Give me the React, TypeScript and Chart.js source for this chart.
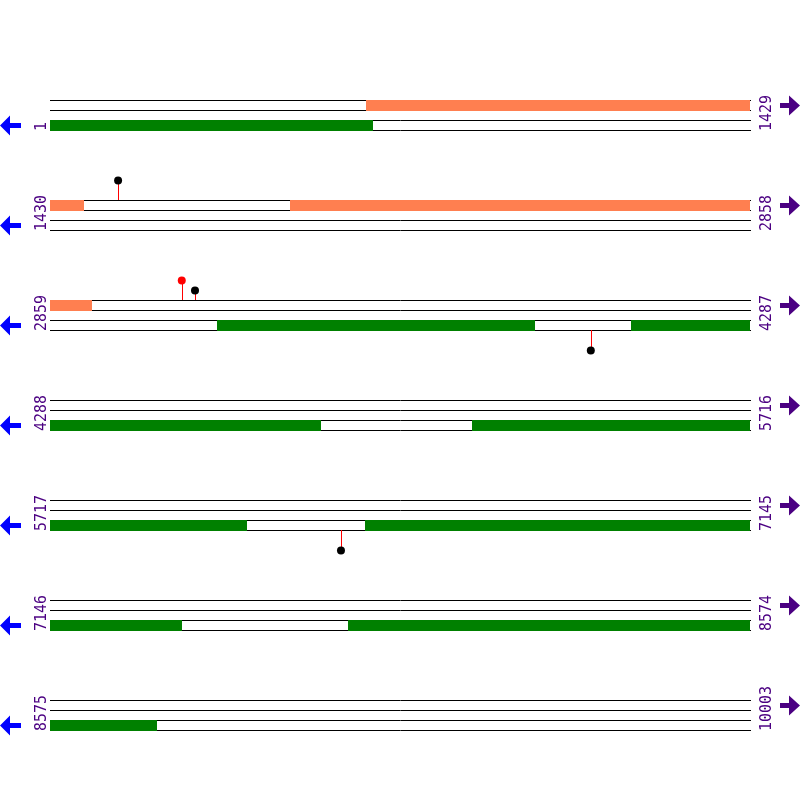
import React, { useEffect, useRef } from "react";
import { Chart, registerables } from "chart.js";
Chart.register(...registerables);

const ROW_LEN = 1429;
const rowStarts = [1, 1430, 2859, 4288, 5717, 7146, 8575];
const rowEnds = [1429, 2858, 4287, 5716, 7145, 8574, 10003];
const forwardStarts = [646, 1920];
const forwardEnds = [1499, 2943];
const reverseStarts = [1, 3200, 4045, 5149, 6360, 7754];
const reverseEnds = [660, 3849, 4841, 6119, 7415, 8793];
const sitePositions = [1569, 3128, 3155, 3963, 6311];
const siteStrands = ["+", "+", "+", "-", "-"];
const siteLevels = [2, 2, 1, 2, 2];
const siteHeadColors = ["#000000", "#FF0000", "#000000", "#000000", "#000000"];
const siteStemColors = ["#FF0000", "#FF0000", "#FF0000", "#FF0000", "#FF0000"];

const FWD_COLOR = "#FF7F50";
const REV_COLOR = "#008000";
const LABEL_COLOR = "#4B0082";
const LEFT_ARROW_COLOR = "#0000FF";

const rowBase = (r: number) => 100 + 100 * r;
const rowOf = (pos: number) => rowStarts.findIndex((s, i) => pos >= s && pos <= rowEnds[i]);

const siteHeadY = (i: number) => {
  const r = rowOf(sitePositions[i]);
  const b = rowBase(r);
  return siteStrands[i] === "+" ? b - 10 * siteLevels[i] : b + 30 + 10 * siteLevels[i];
};

const genomePlugin = {
  id: "genomeMap",
  beforeDatasetsDraw(chart: any) {
    const ctx = chart.ctx as CanvasRenderingContext2D;
    const xs = chart.scales.x;
    const ys = chart.scales.y;
    ctx.save();
    rowStarts.forEach((rs, r) => {
      const base = rowBase(r);
      const px = (pos: number) => xs.getPixelForValue(pos - rs);
      const xStart = Math.round(xs.getPixelForValue(0));
      const xEnd = Math.round(xs.getPixelForValue(ROW_LEN)) + 1;
      ctx.strokeStyle = "#000000";
      ctx.lineWidth = 1;
      for (let l = 0; l < 4; l++) {
        const y = Math.round(ys.getPixelForValue(base + 10 * l)) + 0.5;
        ctx.beginPath();
        ctx.moveTo(xStart, y);
        ctx.lineTo(xEnd, y);
        ctx.stroke();
      }
      const drawFeat = (starts: number[], ends: number[], line: number, color: string) => {
        starts.forEach((s, i) => {
          const a = Math.max(s, rs);
          const b = Math.min(ends[i] + 1, rs + ROW_LEN);
          if (b <= a) return;
          const x0 = Math.round(px(a));
          const x1 = Math.round(px(b));
          const y0 = Math.round(ys.getPixelForValue(base + 10 * line));
          const y1 = Math.round(ys.getPixelForValue(base + 10 * (line + 1)));
          ctx.fillStyle = color;
          ctx.fillRect(x0, y0, x1 - x0, y1 - y0 + 1);
        });
      };
      drawFeat(forwardStarts, forwardEnds, 0, FWD_COLOR);
      drawFeat(reverseStarts, reverseEnds, 2, REV_COLOR);

      ctx.fillStyle = LABEL_COLOR;
      ctx.font = "15px 'DejaVu Sans Mono', monospace";
      ctx.textAlign = "left";
      ctx.textBaseline = "alphabetic";
      const yLab = Math.round(ys.getPixelForValue(base + 30)) + 1;
      ctx.save();
      ctx.translate(xStart - 4, yLab);
      ctx.rotate(-Math.PI / 2);
      ctx.fillText(String(rs), 0, 0);
      ctx.restore();
      ctx.save();
      ctx.translate(xEnd + 20, yLab);
      ctx.rotate(-Math.PI / 2);
      ctx.fillText(String(rowEnds[r]), 0, 0);
      ctx.restore();

      const yl = Math.round(ys.getPixelForValue(base + 25)) + 0.5;
      ctx.fillStyle = LEFT_ARROW_COLOR;
      ctx.beginPath();
      ctx.moveTo(0, yl);
      ctx.lineTo(10, yl - 10);
      ctx.lineTo(10, yl - 2.5);
      ctx.lineTo(21, yl - 2.5);
      ctx.lineTo(21, yl + 2.5);
      ctx.lineTo(10, yl + 2.5);
      ctx.lineTo(10, yl + 10);
      ctx.closePath();
      ctx.fill();
      const yr = Math.round(ys.getPixelForValue(base + 5)) + 0.5;
      ctx.fillStyle = LABEL_COLOR;
      ctx.beginPath();
      ctx.moveTo(800, yr);
      ctx.lineTo(789, yr - 10);
      ctx.lineTo(789, yr - 2.5);
      ctx.lineTo(780, yr - 2.5);
      ctx.lineTo(780, yr + 2.5);
      ctx.lineTo(789, yr + 2.5);
      ctx.lineTo(789, yr + 10);
      ctx.closePath();
      ctx.fill();
    });
    sitePositions.forEach((pos, i) => {
      const r = rowOf(pos);
      const base = rowBase(r);
      const x = Math.round(xs.getPixelForValue(pos - rowStarts[r])) + 0.5;
      const yLine = siteStrands[i] === "+" ? base : base + 30;
      ctx.strokeStyle = siteStemColors[i];
      ctx.lineWidth = 1;
      ctx.beginPath();
      ctx.moveTo(x, Math.round(ys.getPixelForValue(yLine)));
      ctx.lineTo(x, Math.round(ys.getPixelForValue(siteHeadY(i))));
      ctx.stroke();
    });
    ctx.restore();
  },
};

export default function App() {
  const ref = useRef<HTMLCanvasElement | null>(null);
  useEffect(() => {
    if (!ref.current) return;
    const chart = new Chart(ref.current, {
      type: "scatter",
      data: {
        datasets: [
          {
            data: sitePositions.map((p, i) => ({
              x: p - rowStarts[rowOf(p)],
              y: siteHeadY(i) + 0.5,
            })),
            pointRadius: 4,
            pointBorderWidth: 0,
            pointBackgroundColor: siteHeadColors,
            pointBorderColor: siteHeadColors,
            showLine: false,
          },
        ],
      },
      options: {
        animation: false,
        responsive: false,
        events: [],
        layout: { autoPadding: false, padding: { left: 50, right: 50, top: 0, bottom: 0 } },
        plugins: { legend: { display: false }, tooltip: { enabled: false }, title: { display: false } },
        scales: {
          x: { type: "linear", min: 0, max: ROW_LEN, display: false },
          y: { type: "linear", min: 0, max: 800, reverse: true, display: false },
        },
      },
      plugins: [genomePlugin],
    });
    return () => chart.destroy();
  }, []);
  return (
    <div style={{ position: "absolute", left: 0, top: 0, width: 800, height: 800, background: "#ffffff" }}>
      <canvas ref={ref} width={800} height={800} />
    </div>
  );
}
